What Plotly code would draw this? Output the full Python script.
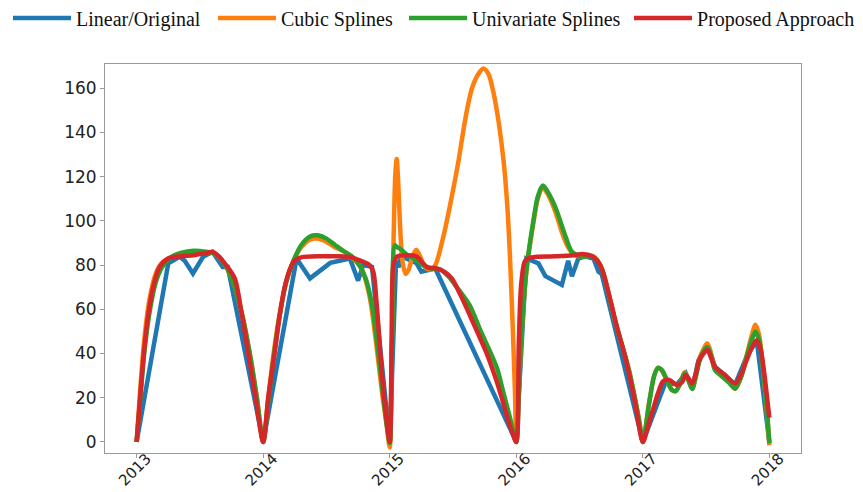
import plotly.graph_objects as go

# ---------------- data (decimal years) ----------------
years = [2013, 2014, 2015, 2016, 2017, 2018]
year_labels = ["2013", "2014", "2015", "2016", "2017", "2018"]
y_ticks = [0, 20, 40, 60, 80, 100, 120, 140, 160]

linear_x = [2013.00, 2013.25, 2013.34, 2013.38, 2013.445, 2013.525, 2013.60, 2013.68, 2013.72, 2014.00,
            2014.264, 2014.37, 2014.53, 2014.685, 2014.75, 2014.79, 2014.86, 2015.00,
            2015.05, 2015.07, 2015.09, 2015.21, 2015.25, 2015.32, 2015.36, 2016.00,
            2016.08, 2016.175, 2016.23, 2016.36, 2016.41, 2016.44, 2016.49, 2016.545, 2016.61, 2016.65, 2016.675, 2017.00,
            2017.18, 2017.27, 2017.34, 2017.39, 2017.44, 2017.51, 2017.57, 2017.66, 2017.73, 2017.82, 2017.90, 2018.00]
linear_y = [0, 80.8, 83.8, 82, 76.2, 83.8, 86, 79.2, 79.2, 0,
            83, 74, 81, 83, 73, 80, 79.2, 0,
            82, 79, 84, 81, 77, 78, 78.5, 0,
            83, 80.8, 75, 71, 82, 75, 83, 84, 83, 77, 76, 0,
            27, 26, 31, 24, 37, 44.6, 34, 29.5, 26, 38.5, 46, 0]

cubic_x = [2013.00, 2013.03, 2013.06, 2013.10, 2013.15, 2013.20, 2013.27, 2013.35, 2013.45, 2013.55, 2013.62, 2013.70, 2013.77, 2013.84, 2013.90, 2013.95, 2014.00,
           2014.04, 2014.08, 2014.13, 2014.18, 2014.24, 2014.30, 2014.37, 2014.43, 2014.50, 2014.57, 2014.645, 2014.72, 2014.78, 2014.84, 2014.89, 2014.94, 2014.975, 2015.00,
           2015.015, 2015.03, 2015.045, 2015.055, 2015.065, 2015.08, 2015.10, 2015.125, 2015.15, 2015.18, 2015.21, 2015.24, 2015.28, 2015.32,
           2015.36, 2015.42, 2015.48, 2015.54, 2015.60, 2015.65, 2015.70, 2015.74, 2015.78, 2015.82, 2015.86, 2015.90, 2015.93, 2015.95, 2015.97, 2015.99, 2016.00,
           2016.02, 2016.04, 2016.08, 2016.135, 2016.17, 2016.21, 2016.25, 2016.31, 2016.36, 2016.41, 2016.46, 2016.52, 2016.58, 2016.63, 2016.68, 2016.78, 2016.89, 2016.97, 2017.00,
           2017.05, 2017.09, 2017.12, 2017.15, 2017.19, 2017.23, 2017.26, 2017.30, 2017.33, 2017.36, 2017.39, 2017.42, 2017.45, 2017.48, 2017.51, 2017.54, 2017.57, 2017.63, 2017.68, 2017.73, 2017.78, 2017.82, 2017.86, 2017.89, 2017.92, 2017.95, 2017.98, 2018.00]
cubic_y = [0, 25, 46, 64, 76, 81, 83.5, 85, 86, 86, 85, 80, 71, 56, 38, 20, 0,
           20, 39, 58, 72, 82, 88, 91.5, 92, 90.5, 88, 86, 82.5, 78, 66, 46, 22, 8, -2.5,
           40, 90, 122, 128, 120, 100, 82, 76, 78, 84, 87, 84, 79, 78,
           80, 92, 108, 126, 147, 160, 166.5, 169, 166.5, 158, 145, 127, 106, 84, 55, 22, 0,
           22, 47, 77, 99, 110, 115, 112, 104, 95, 88, 84.5, 84, 84.5, 83, 78, 55, 32.5, 10, 0,
           18, 30, 33.5, 32.5, 28, 23.5, 23, 27, 31.5, 28, 24, 30, 38, 42, 44.6, 40, 33, 29.5, 27, 24, 30, 39, 48, 53, 48, 33, 14, -1.5]

univ_x = [2013.00, 2013.03, 2013.06, 2013.10, 2013.15, 2013.20, 2013.27, 2013.35, 2013.45, 2013.55, 2013.62, 2013.70, 2013.77, 2013.84, 2013.90, 2013.95, 2014.00,
          2014.04, 2014.08, 2014.13, 2014.18, 2014.24, 2014.30, 2014.37, 2014.43, 2014.50, 2014.57, 2014.63, 2014.70, 2014.76, 2014.81, 2014.86, 2014.91, 2014.95, 2014.98, 2015.00,
          2015.02, 2015.04, 2015.06, 2015.08, 2015.13, 2015.19, 2015.25, 2015.32, 2015.40, 2015.47, 2015.53, 2015.63, 2015.72, 2015.80, 2015.85, 2015.90, 2015.95, 2016.00,
          2016.02, 2016.04, 2016.08, 2016.135, 2016.17, 2016.21, 2016.25, 2016.31, 2016.39, 2016.44, 2016.52, 2016.60, 2016.64, 2016.68, 2016.78, 2016.89, 2016.97, 2017.00,
          2017.05, 2017.09, 2017.12, 2017.15, 2017.19, 2017.23, 2017.26, 2017.30, 2017.33, 2017.36, 2017.39, 2017.42, 2017.45, 2017.48, 2017.51, 2017.54, 2017.57, 2017.63, 2017.68, 2017.73, 2017.78, 2017.82, 2017.86, 2017.89, 2017.92, 2017.95, 2017.98, 2018.00]
univ_y = [0, 20, 40, 58, 72, 79, 83.5, 85.5, 86.5, 86, 85, 80, 71, 56, 38, 20, 0,
          18, 37, 57, 72, 82, 89, 93, 93.5, 92, 89, 86.5, 84, 80, 74, 62, 40, 20, 6, -0.5,
          50, 89, 88, 87.5, 85, 83, 80.5, 78.5, 78, 74.5, 70, 62, 50, 40, 33, 22, 11, 0,
          22, 47.6, 77.7, 100, 111, 116, 113, 106, 92.8, 86, 83.8, 84, 82, 77.7, 55, 32.5, 10, 0,
          17.5, 30, 33.5, 32.5, 28, 23.5, 23, 27, 31, 28, 24, 30, 37, 41, 43, 39, 32.5, 29.5, 27, 24.2, 30, 38.5, 46, 49.9, 46, 33, 15, -0.6]

prop_x = [2013.00, 2013.03, 2013.06, 2013.09, 2013.13, 2013.18, 2013.25, 2013.35, 2013.45, 2013.55, 2013.60, 2013.65, 2013.70, 2013.775, 2013.83, 2013.88, 2013.94, 2014.00,
          2014.04, 2014.09, 2014.13, 2014.17, 2014.21, 2014.25, 2014.30, 2014.46, 2014.60, 2014.70, 2014.77, 2014.84, 2014.87, 2014.896, 2014.936, 2014.975, 2015.00,
          2015.015, 2015.03, 2015.06, 2015.13, 2015.21, 2015.26, 2015.30, 2015.37, 2015.43, 2015.49, 2015.555, 2015.62, 2015.69, 2015.767, 2015.83, 2015.88, 2015.93, 2015.97, 2016.00,
          2016.02, 2016.04, 2016.07, 2016.12, 2016.31, 2016.45, 2016.52, 2016.60, 2016.64, 2016.68, 2016.75, 2016.80, 2016.86, 2016.94, 2017.00,
          2017.04, 2017.08, 2017.12, 2017.16, 2017.21, 2017.27, 2017.31, 2017.34, 2017.37, 2017.39, 2017.42, 2017.44, 2017.48, 2017.51, 2017.54, 2017.57, 2017.65, 2017.73, 2017.78, 2017.82, 2017.86, 2017.90, 2017.93, 2017.96, 2017.99, 2018.00]
prop_y = [0, 22, 42, 57, 70, 79, 83, 84, 84.5, 85.5, 86, 84, 80.5, 74, 58, 41, 20, 0,
          20, 40, 57, 70, 78, 82, 83.5, 84, 84, 83.5, 82, 80, 77, 63, 32.5, 10, 0,
          45, 80, 84, 84.5, 84, 81, 79, 78.5, 77, 74, 67, 59, 50, 40, 30, 21, 11, 4, 0,
          45, 72, 82, 83.5, 84, 84.5, 85, 84, 82, 77.7, 62.7, 51, 38.6, 17.5, 0,
          7, 14.5, 22, 27.5, 28, 25.8, 27, 30.3, 28, 26.5, 31, 36.3, 40, 41.6, 38, 34, 30.3, 26.5, 31, 37, 42.5, 46, 42, 31, 16, 11]

series_names = ["Linear/Original", "Cubic Splines", "Univariate Splines", "Proposed Approach"]
series_x = [linear_x, cubic_x, univ_x, prop_x]
series_y = [linear_y, cubic_y, univ_y, prop_y]
series_colors = ["#1f77b4", "#ff7f0e", "#2ca02c", "#d62728"]
series_shapes = ["linear", "spline", "spline", "spline"]

# one legend box per series so the entries sit where the reference places them
legend_ids = ["legend", "legend2", "legend3", "legend4"]
legend_x = [-0.1394, 0.1552, 0.4296, 0.7529]

fig = go.Figure()
for name, xs, ys, color, shape, lid in zip(series_names, series_x, series_y,
                                           series_colors, series_shapes, legend_ids):
    line = dict(color=color, width=4.5, shape=shape)
    if shape == "spline":
        line["smoothing"] = 0.8
    fig.add_trace(go.Scatter(x=xs, y=ys, mode="lines", name=name, line=line, legend=lid))

axis_common = dict(
    showline=True, linecolor="#9a9a9a", linewidth=1, mirror=True,
    ticks="outside", ticklen=4, tickcolor="#9a9a9a",
    showgrid=False, zeroline=False,
)

legend_style = dict(orientation="h", xanchor="left", y=1.118, yanchor="middle",
                    font=dict(family="Liberation Serif", size=20, color="#111111"),
                    itemwidth=58, bgcolor="rgba(0,0,0,0)")

layout_legends = {lid: dict(x=lx, **legend_style) for lid, lx in zip(legend_ids, legend_x)}

fig.update_layout(
    width=863, height=492,
    margin=dict(l=105, r=62, t=64, b=39, autoexpand=False),
    paper_bgcolor="white", plot_bgcolor="white",
    xaxis=dict(range=[2012.75, 2018.25], tickmode="array", tickvals=years, ticktext=year_labels,
               tickangle=-45, ticklabelshift=10, ticklabelstandoff=-14,
               tickfont=dict(family="DejaVu Sans", size=15, color="#222222"), **axis_common),
    yaxis=dict(range=[-5, 171], tickmode="array", tickvals=y_ticks,
               tickfont=dict(family="DejaVu Sans", size=17, color="#222222"), **axis_common),
    showlegend=True,
    **layout_legends,
)

fig.write_html("out.html")
